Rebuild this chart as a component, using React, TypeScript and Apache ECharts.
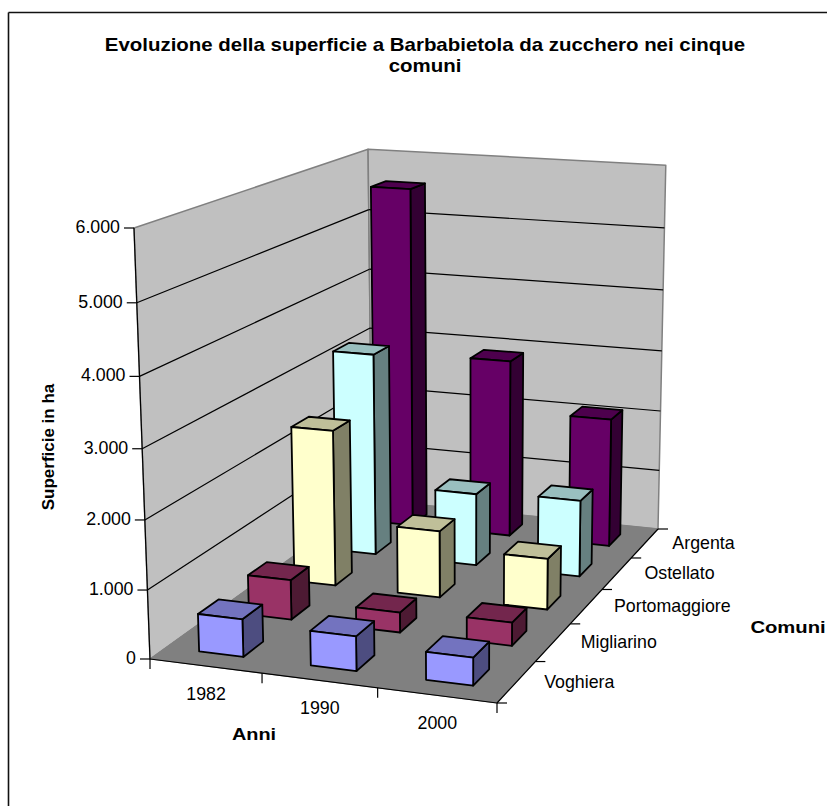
import React, { useEffect, useRef } from "react";
import * as echarts from "echarts";

const titleText = "Evoluzione della superficie a Barbabietola da zucchero nei cinque\ncomuni";
const anni = ["1982", "1990", "2000"];
const comuni = ["Voghiera", "Migliarino", "Portomaggiore", "Ostellato", "Argenta"];
const tickValues = [0, 1000, 2000, 3000, 4000, 5000, 6000];
const tickLabels = ["0", "1.000", "2.000", "3.000", "4.000", "5.000", "6.000"];
const valueMax = 6000;

const voghiera = [550, 500, 400];
const migliarino = [600, 300, 345];
const portomaggiore = [2420, 1030, 780];
const ostellato = [3230, 1150, 1210];
const argenta = [5570, 2900, 2090];
const seriesValues = [voghiera, migliarino, portomaggiore, ostellato, argenta];

const faceColors = [
  { front: "#9999FF", top: "#7373BF", side: "#4D4D80" },
  { front: "#993366", top: "#73264D", side: "#4D1A33" },
  { front: "#FFFFCC", top: "#BFBF99", side: "#808066" },
  { front: "#CCFFFF", top: "#99BFBF", side: "#668080" },
  { front: "#660066", top: "#4D004D", side: "#330033" },
];

const FONT = "Liberation Sans";
const LABEL_SIZE = 17.8;
const BAR_FRACTION = 0.4;

// Perspective camera, solved from the box corners
const cA = [150, 659], cB = [497, 703], cC = [658, 529], cD = [372, 500], cE = [134, 228], cG = [368, 149];
function solveCamera() {
  const m11 = cB[0] - cC[0], m12 = cD[0] - cC[0], r1 = cC[0] - cB[0] - cD[0] + cA[0];
  const m21 = cB[1] - cC[1], m22 = cD[1] - cC[1], r2 = cC[1] - cB[1] - cD[1] + cA[1];
  const det = m11 * m22 - m12 * m21;
  const a = (r1 * m22 - m12 * r2) / det;
  const b = (m11 * r2 - m21 * r1) / det;
  const ex = cE[0] - cG[0], ey = cE[1] - cG[1];
  const rx = (cG[0] - cD[0]) * (1 + b) + cA[0] - cE[0];
  const ry = (cG[1] - cD[1]) * (1 + b) + cA[1] - cE[1];
  const c = (rx * ex + ry * ey) / (ex * ex + ey * ey);
  return {
    a, b, c,
    p1: [cB[0] * (1 + a) - cA[0], cB[1] * (1 + a) - cA[1]],
    p2: [cD[0] * (1 + b) - cA[0], cD[1] * (1 + b) - cA[1]],
    p3: [cE[0] * (1 + c) - cA[0], cE[1] * (1 + c) - cA[1]],
  };
}
const cam = solveCamera();
function proj(x: number, y: number, v: number): number[] {
  const z = v / valueMax;
  const w = 1 + cam.a * x + cam.b * y + cam.c * z;
  return [
    (cam.p1[0] * x + cam.p2[0] * y + cam.p3[0] * z + cA[0]) / w,
    (cam.p1[1] * x + cam.p2[1] * y + cam.p3[1] * z + cA[1]) / w,
  ];
}

const poly = (points: number[][], fill: string, stroke: string, lineWidth = 1.8) => ({
  type: "polygon",
  shape: { points },
  style: { fill, stroke, lineWidth, lineJoin: "round" },
});
const seg = (p: number[], q: number[], stroke = "#000", lineWidth = 1.2) => ({
  type: "line",
  shape: { x1: p[0], y1: p[1], x2: q[0], y2: q[1] },
  style: { stroke, lineWidth, fill: "none" },
});
const label = (text: string, x: number, y: number, align: string) => ({
  type: "text",
  style: {
    text, x, y,
    textAlign: align, align,
    textVerticalAlign: "middle", verticalAlign: "middle",
    fontSize: LABEL_SIZE, fontFamily: FONT, fill: "#000",
  },
});
const boldText = (text: string, x: number, y: number, size: number, scaleX: number, rotation = 0, lineHeight?: number) => ({
  type: "text", x, y, scaleX, rotation,
  style: {
    text, textAlign: "center", align: "center",
    textVerticalAlign: "middle", verticalAlign: "middle",
    fontFamily: FONT, fontWeight: "bold", fontSize: size, lineHeight, fill: "#000",
  },
});

function barRenderer(rowIndex: number) {
  const col = faceColors[rowIndex];
  return (_p: any, api: any) => {
    const c = api.value(0) as number;
    const v = api.value(1) as number;
    const cellX = 1 / anni.length, cellY = 1 / comuni.length;
    const x0 = (c + 0.5 - BAR_FRACTION / 2) * cellX, x1 = (c + 0.5 + BAR_FRACTION / 2) * cellX;
    const y0 = (rowIndex + 0.5 - BAR_FRACTION / 2) * cellY, y1 = (rowIndex + 0.5 + BAR_FRACTION / 2) * cellY;
    return {
      type: "group",
      children: [
        poly([proj(x1, y0, 0), proj(x1, y1, 0), proj(x1, y1, v), proj(x1, y0, v)], col.side, "#000"),
        poly([proj(x0, y0, v), proj(x1, y0, v), proj(x1, y1, v), proj(x0, y1, v)], col.top, "#000"),
        poly([proj(x0, y0, 0), proj(x1, y0, 0), proj(x1, y0, v), proj(x0, y0, v)], col.front, "#000"),
      ],
    };
  };
}

export default function App() {
  const ref = useRef<HTMLDivElement>(null);
  useEffect(() => {
    document.body.style.margin = "0";
    document.documentElement.style.overflow = "hidden";
    const chart = echarts.init(ref.current!, undefined, { renderer: "svg" });
    const boxSeries = {
      type: "custom", name: "box", coordinateSystem: "none", silent: true,
      data: [[0]],
      renderItem: () => ({
        type: "group",
        children: [
          poly([proj(0, 0, 0), proj(0, 1, 0), proj(0, 1, valueMax), proj(0, 0, valueMax)], "#C0C0C0", "#808080", 1.5),
          poly([proj(0, 1, 0), proj(1, 1, 0), proj(1, 1, valueMax), proj(0, 1, valueMax)], "#C0C0C0", "#808080", 1.5),
          poly([proj(0, 0, 0), proj(1, 0, 0), proj(1, 1, 0), proj(0, 1, 0)], "#808080", "#808080", 1),
          seg(proj(0, 0, 0), proj(0, 0, valueMax)),
          seg(proj(0, 0, 0), proj(1, 0, 0)),
          seg(proj(1, 0, 0), proj(1, 1, 0)),
        ],
      }),
    };
    const valueAxisSeries = {
      type: "custom", name: "Superficie in ha", coordinateSystem: "none", silent: true,
      data: tickValues.map((v, i) => [v, i]),
      renderItem: (_p: any, api: any) => {
        const v = api.value(0) as number;
        const i = api.value(1) as number;
        const a = proj(0, 0, v), b = proj(0, 1, v), c = proj(1, 1, v);
        const kids: any[] = [seg([a[0] - 10, a[1]], a), label(tickLabels[i], a[0] - 14, a[1] - 1, "right")];
        if (v > 0 && v < valueMax) kids.push(seg(a, b), seg(b, c));
        return { type: "group", children: kids };
      },
    };
    const xAxisSeries = {
      type: "custom", name: "Anni", coordinateSystem: "none", silent: true,
      data: [0, 1, 2, 3].map((i) => [i]),
      renderItem: (_p: any, api: any) => {
        const i = api.value(0) as number;
        const t = proj(i / anni.length, 0, 0);
        const kids: any[] = [seg(t, [t[0], t[1] + 10])];
        if (i < anni.length) {
          const m = proj((i + 0.5) / anni.length, 0, 0);
          kids.push(label(anni[i], m[0] + 0.5, m[1] + 27.5, "center"));
        }
        return { type: "group", children: kids };
      },
    };
    const depthAxisSeries = {
      type: "custom", name: "Comuni", coordinateSystem: "none", silent: true,
      data: [0, 1, 2, 3, 4, 5].map((i) => [i]),
      renderItem: (_p: any, api: any) => {
        const i = api.value(0) as number;
        const t = proj(1, i / comuni.length, 0);
        const kids: any[] = [seg(t, [t[0] + 10, t[1]])];
        if (i < comuni.length) {
          const m = proj(1, (i + 0.5) / comuni.length, 0);
          kids.push(label(comuni[i], m[0] + 27.5, m[1], "left"));
        }
        return { type: "group", children: kids };
      },
    };
    const barSeries = comuni
      .map((name, r) => ({
        type: "custom", name, coordinateSystem: "none", silent: true,
        data: seriesValues[r].map((v, c) => [c, v]),
        renderItem: barRenderer(r),
      }))
      .reverse();

    chart.setOption({
      animation: false,
      backgroundColor: "#fff",
      graphic: [
        { type: "line", shape: { x1: 8.5, y1: 12.5, x2: 827, y2: 12.5 }, style: { stroke: "#111", lineWidth: 1.6 } },
        { type: "line", shape: { x1: 8.5, y1: 12.5, x2: 8.5, y2: 806 }, style: { stroke: "#111", lineWidth: 1.6 } },
        boldText(titleText, 425, 55, 18.5, 1.105, 0, 21),
        boldText("Superficie in ha", 48, 447, 17, 1, Math.PI / 2),
        boldText("Anni", 254, 734, 17, 1.17),
        boldText("Comuni", 788, 627, 17, 1.19),
      ],
      series: [boxSeries, valueAxisSeries, xAxisSeries, depthAxisSeries, ...barSeries],
    });
    return () => chart.dispose();
  }, []);
  return <div ref={ref} style={{ position: "absolute", left: 0, top: 0, width: 827, height: 806 }} />;
}
